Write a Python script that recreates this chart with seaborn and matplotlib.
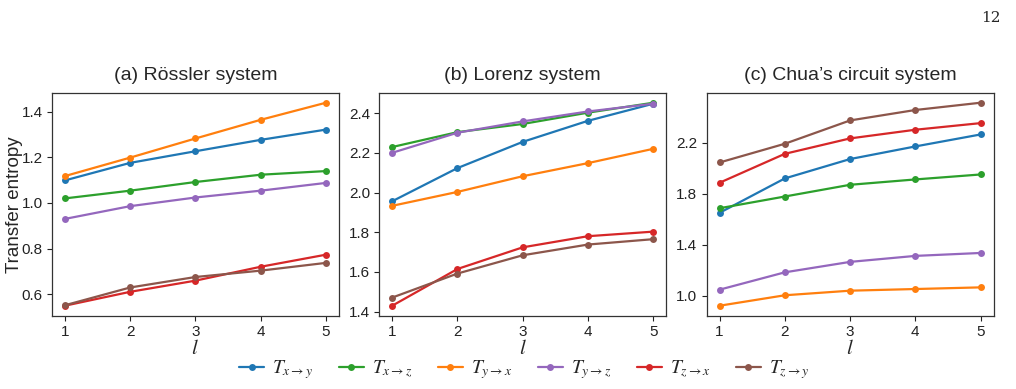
import pandas as pd
import matplotlib
matplotlib.use("Agg")
import matplotlib.pyplot as plt
import seaborn as sns

# data
l_vals = [1, 2, 3, 4, 5]
series = ["x->y", "x->z", "y->x", "y->z", "z->x", "z->y"]
labels = [r"$T_{x\rightarrow y}$", r"$T_{x\rightarrow z}$", r"$T_{y\rightarrow x}$",
          r"$T_{y\rightarrow z}$", r"$T_{z\rightarrow x}$", r"$T_{z\rightarrow y}$"]

rossler = {
    "x->y": [1.099, 1.176, 1.227, 1.277, 1.322],
    "x->z": [1.020, 1.054, 1.092, 1.124, 1.140],
    "y->x": [1.118, 1.199, 1.283, 1.365, 1.440],
    "y->z": [0.930, 0.986, 1.024, 1.054, 1.088],
    "z->x": [0.549, 0.610, 0.659, 0.720, 0.773],
    "z->y": [0.551, 0.629, 0.675, 0.703, 0.737],
}
lorenz = {
    "x->y": [1.956, 2.123, 2.255, 2.361, 2.447],
    "x->z": [2.229, 2.304, 2.345, 2.402, 2.452],
    "y->x": [1.933, 2.003, 2.082, 2.148, 2.220],
    "y->z": [2.200, 2.301, 2.358, 2.408, 2.447],
    "z->x": [1.430, 1.615, 1.724, 1.780, 1.803],
    "z->y": [1.471, 1.592, 1.684, 1.738, 1.765],
}
chua = {
    "x->y": [1.650, 1.920, 2.072, 2.171, 2.265],
    "x->z": [1.686, 1.778, 1.870, 1.912, 1.951],
    "y->x": [0.921, 1.003, 1.039, 1.052, 1.065],
    "y->z": [1.047, 1.183, 1.265, 1.312, 1.335],
    "z->x": [1.886, 2.113, 2.234, 2.302, 2.354],
    "z->y": [2.045, 2.192, 2.375, 2.457, 2.514],
}

titles = ["(a) Rössler system", "(b) Lorenz system", "(c) Chua’s circuit system"]
yticks = [[0.6, 0.8, 1.0, 1.2, 1.4],
          [1.4, 1.6, 1.8, 2.0, 2.2, 2.4],
          [1.0, 1.4, 1.8, 2.2]]

sns.set_style("ticks")
plt.rcParams["font.family"] = ["Liberation Sans", "DejaVu Sans"]
plt.rcParams["mathtext.fontset"] = "stix"

fig, axes = plt.subplots(1, 3, figsize=(10.16, 3.89), dpi=100)
fig.subplots_adjust(left=0.051, right=0.978, top=0.762, bottom=0.188, wspace=0.14)

tab = sns.color_palette("tab10")
palette = dict(zip(series, [tab[0], tab[2], tab[1], tab[4], tab[3], tab[5]]))

for ax, data, title, yt in zip(axes, [rossler, lorenz, chua], titles, yticks):
    rows = []
    for s in series:
        for l, v in zip(l_vals, data[s]):
            rows.append({"l": l, "TE": v, "pair": s})
    df = pd.DataFrame(rows)
    sns.lineplot(data=df, x="l", y="TE", hue="pair", hue_order=series, palette=palette,
                 marker="o", markersize=5, markeredgewidth=0, linewidth=1.6, ax=ax)
    ax.set_title(title, fontsize=14, pad=9)
    ax.set_xticks(l_vals)
    ax.set_yticks(yt)
    ax.set_xlabel("$l$", fontsize=15, labelpad=0)
    ax.set_ylabel("")
    ax.tick_params(labelsize=11, length=3.5, width=0.8, colors="#222222", pad=3)
    for sp in ax.spines.values():
        sp.set_color("#333333")
        sp.set_linewidth(0.9)
    ax.get_legend().remove()

axes[0].set_ylabel("Transfer entropy", fontsize=13.5)
axes[0].yaxis.set_label_coords(-0.1, 0.5)

handles, _ = axes[0].get_legend_handles_labels()
fig.legend(handles, labels, loc="lower center", ncol=6, frameon=False,
           bbox_to_anchor=(0.516, -0.025), fontsize=14, handlelength=1.3,
           columnspacing=1.3, handletextpad=0.4)

fig.text(0.985, 0.955, "12", fontsize=11, ha="right", va="center", family="DejaVu Serif")

fig.savefig("out.png", dpi=100)
